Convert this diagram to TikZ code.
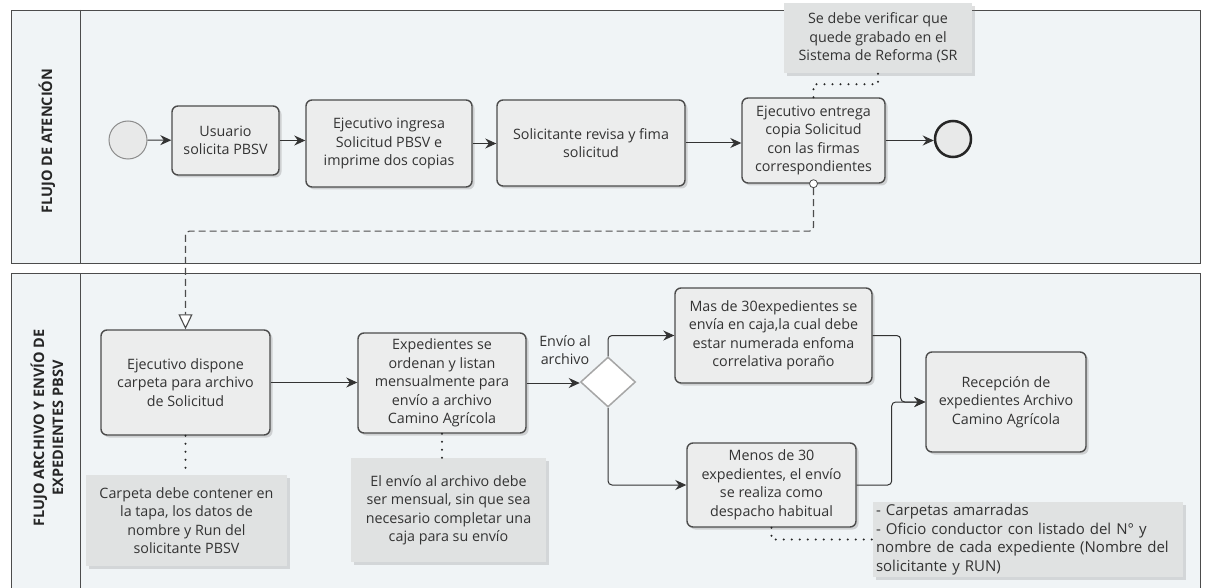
\documentclass[tikz,border=0pt]{standalone}
\usepackage{fontspec}
\setmainfont{Open Sans}
\usetikzlibrary{arrows.meta, shapes.geometric, shadows, positioning}

\definecolor{lanebg}{RGB}{240,244,246}
\definecolor{taskbg}{RGB}{236,237,237}
\definecolor{notebg}{RGB}{224,226,226}
\definecolor{evbg}{RGB}{232,233,233}

\begin{document}
\begin{tikzpicture}[x=1pt, y=-1pt, font=\fontsize{14.3}{18.5}\selectfont,
    lane/.style={draw=black!70, fill=lanebg, line width=0.8pt},
    hdr/.style={rotate=90, align=center, text=black!85,
        font=\fontsize{14.5}{19}\selectfont\bfseries},
    task/.style={draw=black!70, fill=taskbg, rounded corners=6pt, line width=1.4pt,
        align=center, inner sep=0pt, text=black!80,
        drop shadow={shadow xshift=2.5pt, shadow yshift=-2.5pt, opacity=0.3}},
    note/.style={fill=notebg, align=center, inner sep=0pt, text=black!80,
        drop shadow={shadow xshift=3pt, shadow yshift=-3pt, opacity=0.25}},
    evstart/.style={circle, draw=black!45, fill=evbg, line width=1pt,
        minimum size=38pt, inner sep=0pt},
    evend/.style={circle, draw=black!85, fill=evbg, line width=2.5pt,
        minimum size=36pt, inner sep=0pt},
    gate/.style={diamond, draw=black!35, fill=white, line width=1.5pt,
        minimum width=55pt, minimum height=50pt, inner sep=0pt},
    flow/.style={draw=black!80, line width=1pt, rounded corners=4pt,
        -{Stealth[length=11pt, width=10pt]}},
    msgflow/.style={draw=black!70, line width=1.1pt, dash pattern=on 7pt off 4pt,
        rounded corners=4pt, -{Triangle[open, length=15pt, width=14pt, fill=white]}},
    assoc/.style={draw=black!85, line width=2.2pt, line cap=round,
        dash pattern=on 0pt off 8pt}]

    \useasboundingbox[fill=white] (0,0) rectangle (1207,588);

    % Lanes
    \draw[lane] (11,10) rectangle (1200,263);
    \draw[lane] (80,10) -- (80,263);
    \draw[lane] (11,273) rectangle (1200,595);
    \draw[lane] (80,273) -- (80,595);
    \node[hdr] (lane1) at (47,141) {FLUJO DE ATENCIÓN};
    \node[hdr] (lane2) at (47,428) {FLUJO ARCHIVO Y ENVÍO DE\\EXPEDIENTES PBSV};

    % Nodes
    \node[evstart] (ini) at (128,140) {};
    \node[task, minimum width=107pt, minimum height=69pt] (usu) at (225.5,140.5)
        {Usuario\\solicita PBSV};
    \node[task, minimum width=166pt, minimum height=87pt] (ing) at (389,143.5)
        {Ejecutivo ingresa\\Solicitud PBSV e\\imprime dos copias};
    \node[task, minimum width=188pt, minimum height=86pt] (rev) at (591,143)
        {Solicitante revisa y fima\\solicitud};
    \node[task, minimum width=143pt, minimum height=85pt] (ent) at (813.5,140.5)
        {Ejecutivo entrega\\copia Solicitud\\con las firmas\\correspondientes};
    \node[evend] (fin) at (953,139) {};
    \node[note, minimum width=188pt, minimum height=70pt] (verif) at (878,38)
        {Se debe verificar que\\quede grabado en el\\Sistema de Reforma (SR};

    \node[task, minimum width=169pt, minimum height=105pt] (dis) at (185.5,382.5)
        {Ejecutivo dispone\\carpeta para archivo\\de Solicitud};
    \node[task, minimum width=168pt, minimum height=100pt] (exped) at (442,383)
        {Expedientes se\\ordenan y listan\\mensualmente para\\envío a archivo\\Camino Agrícola};
    \node[gate] (gw) at (608,382) {};
    \node[align=center, text=black!80] (gwlbl) at (565,350) {Envío al\\archivo};
    \node[task, minimum width=197pt, minimum height=95pt] (mas) at (773.5,335.5)
        {Mas de 30expedientes se\\envía en caja,la cual debe\\estar numerada enfoma\\correlativa poraño};
    \node[task, minimum width=169pt, minimum height=84pt] (menos) at (771.5,485)
        {Menos de 30\\expedientes, el envío\\se realiza  como\\despacho habitual};
    \node[task, minimum width=160pt, minimum height=100pt] (recep) at (1006,402)
        {Recepción de\\expedientes Archivo\\Camino Agrícola};
    \node[note, minimum width=201pt, minimum height=91pt] (carp) at (186.5,520.5)
        {Carpeta debe contener en\\la tapa, los datos de\\nombre y Run  del\\solicitante  PBSV};
    \node[note, minimum width=195pt, minimum height=104pt] (mens) at (448.5,510)
        {El envío al archivo debe\\ser mensual, sin que sea\\necesario completar una\\caja para su envío};
    \node[note, minimum width=310pt, minimum height=75pt, align=left,
        text width=304pt, font=\fontsize{15}{18.5}\selectfont] (amarr) at (1028,539.5)
        {- Carpetas amarradas\\- Oficio conductor con listado del N° y\\nombre de cada expediente (Nombre del\\solicitante y RUN)};
    \node[circle, draw=black!70, fill=white, line width=0.8pt, minimum size=8pt,
        inner sep=0pt] (msgo) at (ent.south) {};

    % Arrows
    \draw[flow] (ini) -- (usu);
    \draw[flow] (usu.east) -- (usu.east -| ing.west);
    \draw[flow] (ing.east) -- (ing.east -| rev.west);
    \draw[flow] (rev.east) -- (rev.east -| ent.west);
    \draw[flow] (ent.east) -- (ent.east -| fin.west);
    \draw[flow] (dis.east) -- (dis.east -| exped.west);
    \draw[flow] (exped.east) -- (exped.east -| gw.west);
    \draw[flow] (gw.north) |- (mas.west);
    \draw[flow] (gw.south) |- (menos.west);
    \draw[flow] (mas.east) -- ++(28,0) |- (recep.west);
    \draw[flow] (menos.east) -- ++(35,0) |- (recep.west);
    \draw[msgflow] (msgo.south) -- ++(0,43) -| (dis.north);

    % Annotations
    \draw[assoc] (ent.north) -- ++(0,-13) -| (verif.south);
    \draw[assoc] (dis.south) -- (dis.south |- carp.north);
    \draw[assoc] (exped.south) -- (exped.south |- mens.north);
    \draw[assoc] (menos.south) |- (amarr.west);
\end{tikzpicture}
\end{document}
